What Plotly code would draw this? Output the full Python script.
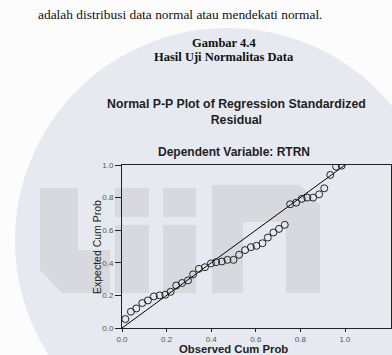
import plotly.graph_objects as go

# ---- data ----
observed_cum_prob = [0.015, 0.040, 0.064, 0.091, 0.116, 0.143, 0.169, 0.194, 0.218, 0.243,
                     0.269, 0.296, 0.319, 0.345, 0.372, 0.399, 0.422, 0.448, 0.473, 0.500,
                     0.525, 0.552, 0.578, 0.603, 0.630, 0.654, 0.679, 0.704, 0.730, 0.754,
                     0.781, 0.806, 0.831, 0.857, 0.884, 0.907, 0.934, 0.960, 0.985]
expected_cum_prob = [0.055, 0.100, 0.120, 0.153, 0.169, 0.194, 0.200, 0.204, 0.222, 0.261,
                     0.276, 0.292, 0.329, 0.363, 0.373, 0.396, 0.404, 0.408, 0.418, 0.418,
                     0.449, 0.478, 0.496, 0.504, 0.520, 0.555, 0.586, 0.608, 0.633, 0.759,
                     0.769, 0.792, 0.800, 0.800, 0.820, 0.857, 0.939, 0.990, 0.996]
ref_line_x = [0.0, 1.0]
ref_line_y = [0.0, 1.0]
tick_vals = [0.0, 0.2, 0.4, 0.6, 0.8, 1.0]
tick_text = ["0.0", "0.2", "0.4", "0.6", "0.8", "1.0"]

W, H = 392, 355
ML, MR, MT, MB = 122, 1, 165, 27
PW, PH = W - ML - MR, H - MT - MB


def px(x):
    return (x - ML) / PW


def py(y):
    return (MT + PH - y) / PH


def path(points):
    return "M " + " L ".join(f"{px(a):.4f},{py(b):.4f}" for a, b in points) + " Z"


fig = go.Figure()
fig.add_trace(go.Scatter(x=ref_line_x, y=ref_line_y, mode="lines",
                         line=dict(color="black", width=1), hoverinfo="skip",
                         showlegend=False))
fig.add_trace(go.Scatter(x=observed_cum_prob, y=expected_cum_prob, mode="markers",
                         marker=dict(symbol="circle-open", size=7,
                                     color="#222222", line=dict(width=1)),
                         showlegend=False))

shapes = []
# watermark: big pale circle
shapes.append(dict(type="circle", xref="paper", yref="paper", layer="below",
                   x0=px(15), x1=px(440), y0=py(28), y1=py(453),
                   fillcolor="#e6eaf0", line=dict(width=0)))
# watermark letters "uin"
gray = "rgba(200,200,204,0.5)"
blocks = [
    [(40, 188), (78, 188), (78, 250), (110, 250), (110, 293), (62, 293), (40, 270)],
    [(115, 188), (149, 188), (149, 217), (115, 217)],
    [(115, 225), (149, 225), (149, 293), (115, 293)],
    [(163, 188), (196, 188), (196, 217), (163, 217)],
    [(163, 225), (196, 225), (196, 293), (163, 293)],
    [(212, 185), (300, 185), (320, 205), (320, 293), (286, 293), (286, 222),
     (243, 222), (243, 293), (212, 293)],
]
for b in blocks:
    shapes.append(dict(type="path", xref="paper", yref="paper", layer="below",
                       path=path(b), fillcolor=gray, line=dict(width=0)))

fig.update_layout(shapes=shapes)

ann = []
ann.append(dict(text="adalah distribusi data normal atau mendekati normal.",
                x=px(180), y=py(14), xanchor="center", yanchor="middle",
                font=dict(family="Liberation Serif", size=13.4, color="#111")))
ann.append(dict(text="<b>Gambar 4.4</b>", x=px(224), y=py(43), xanchor="center",
                yanchor="middle", font=dict(family="Liberation Serif", size=12.5, color="#111")))
ann.append(dict(text="<b>Hasil Uji Normalitas Data</b>", x=px(224), y=py(57),
                xanchor="center", yanchor="middle",
                font=dict(family="Liberation Serif", size=12.5, color="#111")))
ann.append(dict(text="<b>Normal P-P Plot of Regression Standardized<br>Residual</b>",
                x=px(236), y=py(112), xanchor="center", yanchor="middle",
                font=dict(family="Liberation Sans", size=12.3, color="#222")))
ann.append(dict(text="<b>Dependent Variable: RTRN</b>", x=px(234), y=py(152),
                xanchor="center", yanchor="middle",
                font=dict(family="Liberation Sans", size=12, color="#222")))
ann.append(dict(text="<b>Observed Cum Prob</b>", x=px(233), y=py(349),
                xanchor="center", yanchor="middle",
                font=dict(family="Liberation Sans", size=11.3, color="#222")))
ann.append(dict(text="Expected Cum Prob", x=px(97), y=py(247), textangle=-90,
                xanchor="center", yanchor="middle",
                font=dict(family="Liberation Sans Narrow, Liberation Sans", size=10.5,
                          color="#222")))
for a in ann:
    a.update(xref="paper", yref="paper", showarrow=False)
fig.update_layout(annotations=ann)

axis_common = dict(showgrid=False, zeroline=False, showline=True, linecolor="#222",
                   linewidth=1, mirror=True, ticks="outside", tickcolor="#222",
                   tickvals=tick_vals, ticktext=tick_text,
                   tickfont=dict(family="Liberation Sans", size=8, color="#555"))
fig.update_xaxes(range=[0, PW / 223.0], ticklen=3, **axis_common)
fig.update_yaxes(range=[0, 1], ticklen=6, **axis_common)

fig.update_layout(width=W, height=H, margin=dict(l=ML, r=MR, t=MT, b=MB, pad=0),
                  paper_bgcolor="#fcfcfc", plot_bgcolor="rgba(238,238,238,0.75)",
                  showlegend=False)

fig.write_html("out.html")
